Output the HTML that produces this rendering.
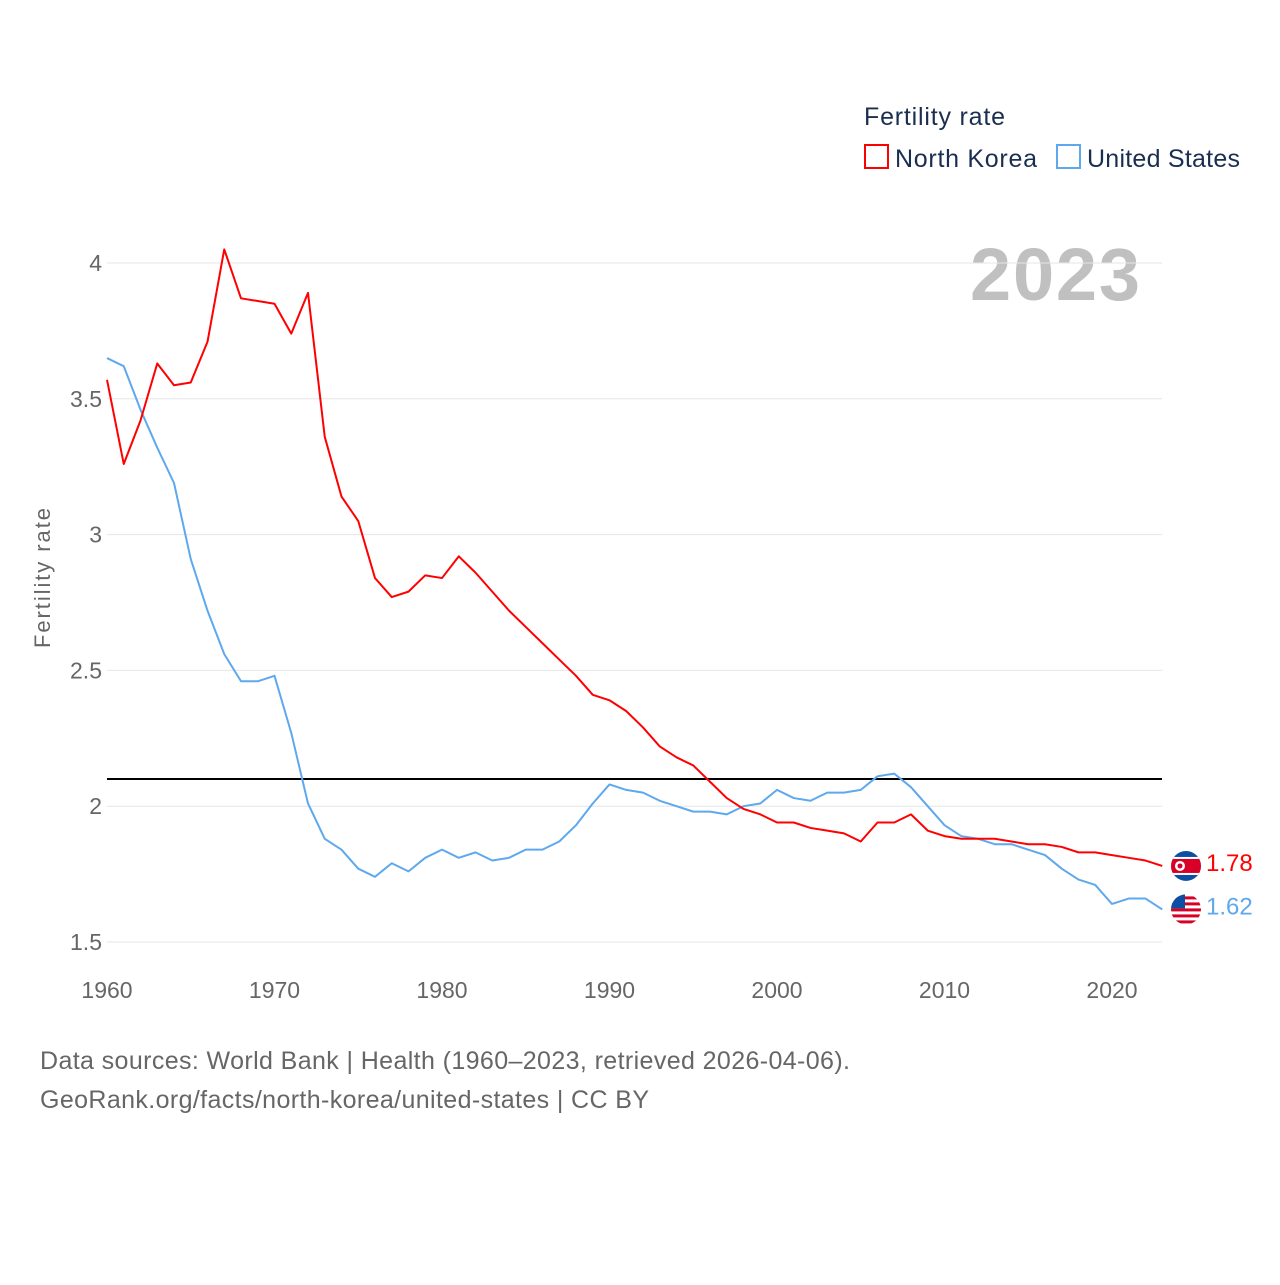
<!DOCTYPE html>
<html><head><meta charset="utf-8"><style>
html,body{margin:0;padding:0;background:#fff;}
body{width:1280px;height:1280px;overflow:hidden;font-family:"Liberation Sans",sans-serif;}
</style></head><body>
<svg id="chart" width="1280" height="1280" xmlns="http://www.w3.org/2000/svg" font-family="Liberation Sans, sans-serif">
<defs id="defs"></defs>
<text x="864" y="125" font-size="25" fill="#1a2e50" textLength="141">Fertility rate</text>
<g>
<rect x="865" y="145" width="23" height="23" fill="none" stroke="#ff0000" stroke-width="2"/>
<text x="895" y="167" font-size="25" fill="#1a2e50" textLength="142">North Korea</text></g>
<g>
<rect x="1057" y="145" width="23" height="23" fill="none" stroke="#5ea8ee" stroke-width="2"/>
<text x="1087" y="167" font-size="25" fill="#1a2e50" textLength="153">United States</text></g>
<text x="1140" y="300" font-size="74" font-weight="bold" fill="#c0c0c0" text-anchor="end" textLength="170">2023</text>
<text transform="translate(50,578) rotate(-90)" font-size="22" fill="#666" text-anchor="middle" textLength="140">Fertility rate</text>
<g id="grid"></g><g id="series"></g><g id="ticks"></g>
<text x="40" y="1069" font-size="25" fill="#666" textLength="810">Data sources: World Bank | Health (1960–2023, retrieved 2026-04-06).</text>
<text x="40" y="1108" font-size="25" fill="#666" textLength="609">GeoRank.org/facts/north-korea/united-states | CC BY</text>
</svg>
<script>
const years=[];for(let y=1960;y<=2023;y++)years.push(y);
const northKorea=[3.57,3.26,3.42,3.63,3.55,3.56,3.71,4.05,3.87,3.86,3.85,3.74,3.89,3.36,3.14,3.05,2.84,2.77,2.79,2.85,2.84,2.92,2.86,2.79,2.72,2.66,2.60,2.54,2.48,2.41,2.39,2.35,2.29,2.22,2.18,2.15,2.09,2.03,1.99,1.97,1.94,1.94,1.92,1.91,1.90,1.87,1.94,1.94,1.97,1.91,1.89,1.88,1.88,1.88,1.87,1.86,1.86,1.85,1.83,1.83,1.82,1.81,1.80,1.78];
const unitedStates=[3.65,3.62,3.46,3.32,3.19,2.91,2.72,2.56,2.46,2.46,2.48,2.27,2.01,1.88,1.84,1.77,1.74,1.79,1.76,1.81,1.84,1.81,1.83,1.80,1.81,1.84,1.84,1.87,1.93,2.01,2.08,2.06,2.05,2.02,2.00,1.98,1.98,1.97,2.00,2.01,2.06,2.03,2.02,2.05,2.05,2.06,2.11,2.12,2.07,2.00,1.93,1.89,1.88,1.86,1.86,1.84,1.82,1.77,1.73,1.71,1.64,1.66,1.66,1.62];
const yTicks=[1.5,2,2.5,3,3.5,4];
const xTicks=[1960,1970,1980,1990,2000,2010,2020];
const replacementRate=[2.1];
const NS="http://www.w3.org/2000/svg";
const X=y=>107+(y-1960)*(1112-107)/60;
const Y=v=>942-(v-1.5)*(942-263)/2.5;
function mk(t,a,p){const e=document.createElementNS(NS,t);for(const k in a)e.setAttribute(k,a[k]);p.appendChild(e);return e;}
const grid=document.getElementById('grid'),ticks=document.getElementById('ticks'),ser=document.getElementById('series'),defs=document.getElementById('defs');
yTicks.forEach(v=>{
const l=mk('line',{x1:107,x2:1162,y1:Y(v),y2:Y(v),stroke:'#e6e6e6','stroke-width':1},grid);


const t=mk('text',{x:102,y:Y(v)+8,'font-size':23,fill:'#666','text-anchor':'end'},ticks);
t.textContent=String(v);


});
xTicks.forEach(v=>{
const t=mk('text',{x:X(v),y:998,'font-size':23,fill:'#666','text-anchor':'middle'},ticks);
t.textContent=String(v);


});
replacementRate.forEach(v=>{
const l=mk('line',{x1:107,x2:1162,y1:Y(v),y2:Y(v),stroke:'#000','stroke-width':2},ser);


});
function line(vals,color,name){
const p=mk('polyline',{points:vals.map((v,i)=>X(years[i])+','+Y(v)).join(' '),fill:'none',stroke:color,'stroke-width':2,'stroke-linejoin':'round'},ser);


}
line(unitedStates,'#5ea8ee','united-states-line');
line(northKorea,'#ff0000','north-korea-line');
function endLabel(vals,color,name,flag){
const v=vals[vals.length-1],cx=1186,cy=Y(v);
const cp=mk('clipPath',{id:'clip-'+flag},defs);
mk('circle',{cx:cx,cy:cy,r:15},cp);
const g=mk('g',{},ser);


const f=mk('g',{'clip-path':'url(#clip-'+flag+')'},g);
if(flag==='kp'){
mk('rect',{x:cx-15,y:cy-15,width:30,height:30,fill:'#0b4ea2'},f);
mk('rect',{x:cx-15,y:cy-9,width:30,height:18,fill:'#fff'},f);
mk('rect',{x:cx-15,y:cy-7,width:30,height:14,fill:'#d80027'},f);
mk('circle',{cx:cx-6,cy:cy,r:5,fill:'#fff'},f);
mk('circle',{cx:cx-6,cy:cy,r:2.5,fill:'#d80027'},f);
}else{
mk('rect',{x:cx-15,y:cy-15,width:30,height:30,fill:'#fff'},f);
for(let i=0;i<5;i++)mk('rect',{x:cx-15,y:cy-13+i*6,width:30,height:3,fill:'#d80027'},f);
mk('rect',{x:cx-15,y:cy-15,width:14,height:14,fill:'#0b4ea2'},f);
}
const t=mk('text',{x:1206,y:cy+5,'font-size':24,fill:color},g);
t.textContent=v.toFixed(2);
}
endLabel(northKorea,'#ff0000','north-korea-end-label','kp');
endLabel(unitedStates,'#5ea8ee','united-states-end-label','us');
</script>
</body></html>
